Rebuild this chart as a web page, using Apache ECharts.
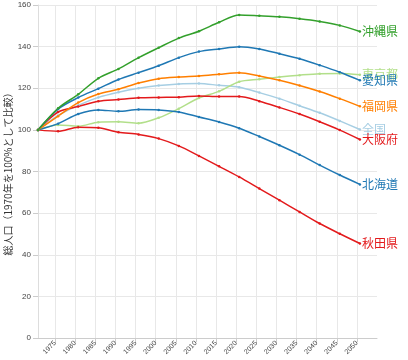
<!DOCTYPE html>
<html>
<head>
<meta charset="utf-8">
<script src="https://cdn.jsdelivr.net/npm/echarts@6/dist/echarts.min.js"></script>
<style>html,body{margin:0;padding:0;background:#fff}#c{width:408px;height:360px}</style>
</head>
<body>
<div id="c"></div>
<script>
var years = [1970,1975,1980,1985,1990,1995,2000,2005,2010,2015,2020,2025,2030,2035,2040,2045,2050];
var tickYears = [1975,1980,1985,1990,1995,2000,2005,2010,2015,2020,2025,2030,2035,2040,2045,2050];
var yTicks = [0,20,40,60,80,100,120,140,160];

var okinawa  = [100,110.4,117.1,124.8,129.3,134.7,139.5,144.1,147.4,151.7,155.2,154.8,154.3,153.4,152.1,150.2,147.3];
var aichi    = [100,110.0,115.5,119.8,124.2,127.5,130.8,134.7,137.6,138.9,140.0,138.9,136.6,134.2,131.1,127.7,123.8];
var tokyo    = [100,102.3,101.8,103.7,103.9,103.2,105.8,110.2,115.3,118.5,123.1,124.3,125.4,126.3,127.0,127.1,126.5];
var fukuoka  = [100,106.6,113.1,117.2,119.5,122.5,124.6,125.4,125.9,126.7,127.5,125.9,123.8,121.3,118.4,115.0,111.3];
var zenkoku  = [100,106.9,111.8,115.6,118.1,120.0,121.3,122.1,122.3,121.4,120.5,117.9,115.0,111.6,108.2,104.3,100.2];
var osaka    = [100,108.6,111.2,113.8,114.6,115.4,115.6,115.7,116.3,116.0,116.0,113.8,110.8,107.6,103.9,99.9,95.4];
var hokkaido = [100,103.0,107.6,109.6,108.9,109.8,109.6,108.6,106.2,103.8,100.8,96.8,92.6,88.1,83.1,78.3,73.8];
var akita    = [100,99.3,101.3,101.0,98.9,97.8,95.8,92.3,87.5,82.5,77.4,71.8,66.2,60.6,55.0,50.1,45.4];

var seriesDefs = [
  ['全国', zenkoku, '#a6cee3'],
  ['東京都', tokyo, '#b2df8a'],
  ['秋田県', akita, '#e31a1c'],
  ['大阪府', osaka, '#e31a1c'],
  ['北海道', hokkaido, '#1f78b4'],
  ['福岡県', fukuoka, '#ff7f00'],
  ['愛知県', aichi, '#1f78b4'],
  ['沖縄県', okinawa, '#33a02c']
];

var FONT = '"Liberation Sans", "Noto Sans CJK JP", sans-serif';

var series = seriesDefs.map(function (d) {
  return {
    name: d[0],
    type: 'line',
    smooth: 0.3,
    symbol: 'circle',
    symbolSize: 2.5,
    showSymbol: true,
    animation: false,
    lineStyle: { width: 1.5, color: d[2] },
    itemStyle: { color: d[2] },
    data: years.map(function (y, i) { return [y + 0.75, d[1][i]]; }),
    endLabel: {
      show: true,
      formatter: '{a}',
      color: d[2],
      fontSize: 12,
      fontFamily: '"Noto Sans CJK JP", sans-serif',
      distance: 2
    }
  };
});

var chart = echarts.init(document.getElementById('c'), null, { renderer: 'canvas' });
chart.setOption({
  animation: false,
  grid: { left: 38, right: 31, top: 5, bottom: 22, containLabel: false, outerBoundsMode: 'none' },
  xAxis: {
    type: 'value',
    min: 1970.75,
    max: 2055,
    axisLine: { show: true, lineStyle: { color: '#cccccc' } },
    axisTick: { show: true, length: 4, customValues: tickYears, lineStyle: { color: '#cccccc' } },
    axisLabel: {
      customValues: tickYears,
      formatter: function (v) { return String(Math.round(v)); },
      rotate: 45,
      fontSize: 7,
      color: '#444',
      fontFamily: FONT,
      margin: 4
    },
    splitLine: { show: true, lineStyle: { color: '#e8e8e8' } }
  },
  yAxis: {
    type: 'value',
    min: 0,
    max: 160,
    interval: 20,
    name: '総人口（1970年を100%として比較）',
    nameLocation: 'middle',
    nameGap: 25,
    nameRotate: 90,
    nameMoveOverlap: false,
    nameTextStyle: { fontSize: 10, color: '#333', fontFamily: '"Noto Sans CJK JP", sans-serif' },
    axisLine: { show: true, lineStyle: { color: '#dddddd' } },
    axisTick: { show: true, length: 5, lineStyle: { color: '#cccccc' } },
    axisLabel: { fontSize: 8, color: '#444', fontFamily: FONT, margin: 7 },
    splitLine: { show: true, lineStyle: { color: '#e8e8e8' } }
  },
  series: series
});
</script>
</body>
</html>
